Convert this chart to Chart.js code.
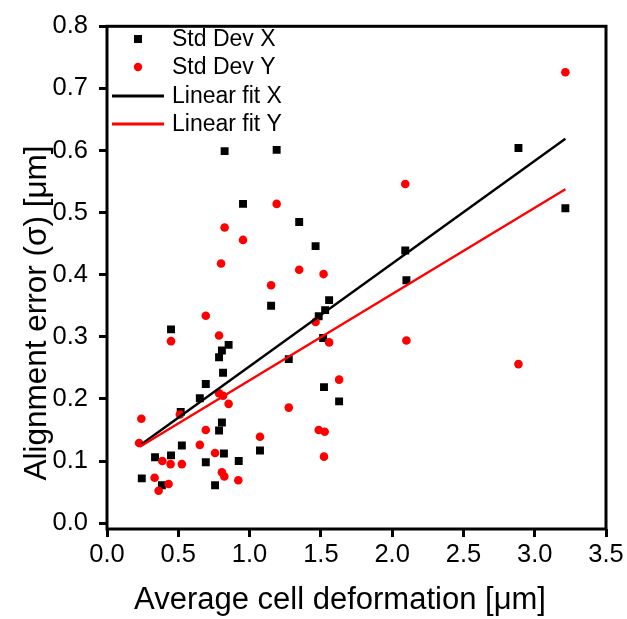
<!DOCTYPE html>
<html>
<head>
    <meta charset="UTF-8">
    <title>Alignment error</title>
    <script src="https://cdn.jsdelivr.net/npm/chart.js@4.4.1/dist/chart.umd.min.js"></script>
    <style type="text/css">
        body {
            padding:0px;
            margin:0px;
            background:#fff;
        }
        #wrap {
            width:627px;
            height:619px;
        }
    </style>
</head>
<body>
<div id="wrap">
    <canvas id="myChart" width="627" height="619"></canvas>
</div>
<script type="text/javascript">

    // Std Dev X (black squares)
    var devXx = [0.244, 0.337, 0.385, 0.449, 0.449, 0.517, 0.525, 0.651, 0.693, 0.693,
                 0.758, 0.786, 0.786, 0.806, 0.806, 0.814, 0.820, 0.825, 0.853, 0.924,
                 0.954, 1.073, 1.151, 1.190, 1.275, 1.348, 1.463, 1.485, 1.516, 1.522,
                 1.530, 1.558, 1.628, 2.092, 2.100, 2.886, 3.215];
    var devXy = [0.072, 0.106, 0.061, 0.109, 0.312, 0.179, 0.125, 0.201, 0.224, 0.098,
                 0.061, 0.149, 0.267, 0.278, 0.162, 0.242, 0.112, 0.599, 0.287, 0.100,
                 0.514, 0.117, 0.350, 0.601, 0.264, 0.485, 0.446, 0.333, 0.298, 0.219,
                 0.343, 0.359, 0.196, 0.439, 0.391, 0.604, 0.507];

    // Std Dev Y (red circles)
    var devYx = [0.225, 0.241, 0.334, 0.362, 0.388, 0.432, 0.446, 0.449, 0.511, 0.525,
                 0.651, 0.693, 0.693, 0.758, 0.786, 0.800, 0.786, 0.814, 0.806, 0.823,
                 0.825, 0.853, 0.921, 0.954, 1.073, 1.151, 1.190, 1.275, 1.348, 1.463,
                 1.485, 1.519, 1.527, 1.522, 1.558, 1.628, 2.092, 2.100, 2.886, 3.215];
    var devYy = [0.129, 0.168, 0.073, 0.052, 0.100, 0.063, 0.095, 0.293, 0.175, 0.095,
                 0.126, 0.150, 0.334, 0.113, 0.302, 0.418, 0.209, 0.205, 0.082, 0.075,
                 0.476, 0.192, 0.069, 0.456, 0.139, 0.383, 0.514, 0.186, 0.408, 0.324,
                 0.150, 0.401, 0.147, 0.107, 0.291, 0.231, 0.546, 0.294, 0.256, 0.726];

    // fit lines, end points
    var fitXx = [0.244, 3.215];
    var fitXy = [0.1275, 0.619];
    var fitYx = [0.230, 3.215];
    var fitYy = [0.123, 0.5375];

    var seriesNames = ["Std Dev X", "Std Dev Y", "Linear fit X", "Linear fit Y"];
    var xTicks = [0.0, 0.5, 1.0, 1.5, 2.0, 2.5, 3.0, 3.5];
    var yTicks = [0.0, 0.1, 0.2, 0.3, 0.4, 0.5, 0.6, 0.7, 0.8];
    var xTitle = "Average cell deformation [\u03bcm]";
    var yTitle = "Alignment error (\u03c3) [\u03bcm]";

    function pts(xs, ys) {
        var out = [];
        for (var i = 0; i < xs.length; i++) out.push({x: xs[i], y: ys[i]});
        return out;
    }

    var FONT = "'Liberation Sans', Arial, sans-serif";

    // box frame, axis titles and the legend
    var decorations = {
        id: 'decorations',
        afterDraw: function(chart) {
            var ctx = chart.ctx;
            var a = chart.chartArea;
            ctx.save();
            ctx.strokeStyle = '#000';
            ctx.lineWidth = 3;
            ctx.strokeRect(a.left, a.top, a.right - a.left, a.bottom - a.top);

            ctx.fillStyle = '#000';
            ctx.font = '31px ' + FONT;
            ctx.textAlign = 'center';
            ctx.textBaseline = 'alphabetic';
            ctx.fillText(xTitle, 340, 609);

            ctx.save();
            ctx.translate(46, 313);
            ctx.rotate(-Math.PI / 2);
            ctx.font = '31.5px ' + FONT;
            ctx.fillText(yTitle, 0, 0);
            ctx.restore();

            // legend
            ctx.font = '23px ' + FONT;
            ctx.textAlign = 'left';
            ctx.textBaseline = 'middle';
            var rowY = [39, 67, 96, 124];
            chart.data.datasets.forEach(function(ds, i) {
                var y = rowY[i];
                if (ds.showLine) {
                    ctx.strokeStyle = ds.borderColor;
                    ctx.lineWidth = 3;
                    ctx.beginPath();
                    ctx.moveTo(112, y);
                    ctx.lineTo(164, y);
                    ctx.stroke();
                } else {
                    ctx.fillStyle = ds.backgroundColor;
                    if (ds.pointStyle === 'rect') {
                        ctx.fillRect(134, y - 4, 8, 8);
                    } else {
                        ctx.beginPath();
                        ctx.arc(138, y, 4.2, 0, Math.PI * 2);
                        ctx.fill();
                    }
                }
                ctx.fillStyle = '#000';
                ctx.fillText(ds.label, 172, y + 1);
            });
            ctx.restore();
        }
    };

    var ctx = document.getElementById('myChart').getContext('2d');
    var chart = new Chart(ctx, {
        type: 'scatter',
        data: {
            datasets: [{
                label: seriesNames[0],
                data: pts(devXx, devXy),
                pointStyle: 'rect',
                pointRadius: 5.6,
                pointHoverRadius: 5.6,
                backgroundColor: '#000000',
                borderColor: '#000000',
                borderWidth: 0,
                order: 4
            }, {
                label: seriesNames[1],
                data: pts(devYx, devYy),
                pointStyle: 'circle',
                pointRadius: 4.3,
                pointHoverRadius: 4.3,
                backgroundColor: '#ff0000',
                borderColor: '#ff0000',
                borderWidth: 0,
                order: 3
            }, {
                label: seriesNames[2],
                data: pts(fitXx, fitXy),
                showLine: true,
                pointRadius: 0,
                borderColor: '#000000',
                backgroundColor: '#000000',
                borderWidth: 2.4,
                order: 2
            }, {
                label: seriesNames[3],
                data: pts(fitYx, fitYy),
                showLine: true,
                pointRadius: 0,
                borderColor: '#ff0000',
                backgroundColor: '#ff0000',
                borderWidth: 2.4,
                order: 1
            }]
        },
        options: {
            responsive: false,
            animation: false,
            events: [],
            layout: {
                padding: {left: 0, right: 21, top: 19, bottom: 0}
            },
            plugins: {
                legend: {display: false},
                tooltip: {enabled: false}
            },
            scales: {
                x: {
                    type: 'linear',
                    min: xTicks[0],
                    max: xTicks[xTicks.length - 1],
                    afterBuildTicks: function(scale) {
                        scale.ticks = xTicks.map(function(v) { return {value: v}; });
                    },
                    afterFit: function(scale) { scale.height = 90; },
                    border: {display: false},
                    grid: {
                        drawOnChartArea: false,
                        drawTicks: true,
                        tickLength: 8,
                        lineWidth: 3,
                        color: '#000'
                    },
                    ticks: {
                        color: '#000',
                        padding: 3,
                        maxRotation: 0,
                        font: {family: FONT, size: 25.5},
                        callback: function(v) { return Number(v).toFixed(1); }
                    }
                },
                y: {
                    type: 'linear',
                    min: -0.0095,
                    max: yTicks[yTicks.length - 1],
                    afterBuildTicks: function(scale) {
                        scale.ticks = yTicks.map(function(v) { return {value: v}; });
                    },
                    afterFit: function(scale) { scale.width = 107; },
                    border: {display: false},
                    grid: {
                        drawOnChartArea: false,
                        drawTicks: true,
                        tickLength: 8,
                        lineWidth: 3,
                        color: '#000'
                    },
                    ticks: {
                        color: '#000',
                        padding: 11,
                        font: {family: FONT, size: 25.5},
                        callback: function(v) { return Number(v).toFixed(1); }
                    }
                }
            }
        },
        plugins: [decorations]
    });
</script>
</body>
</html>
